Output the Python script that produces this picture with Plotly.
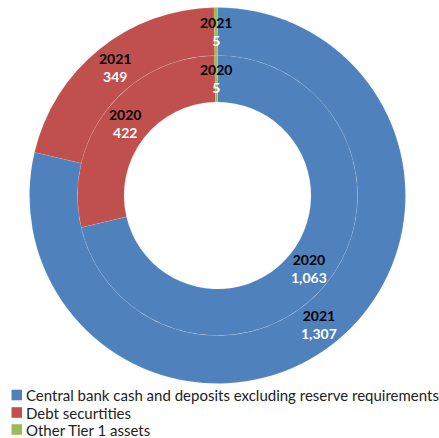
import math
import plotly.graph_objects as go

# Tier 1 asset composition, 2020 (inner ring) vs 2021 (outer ring)
categories = ["Central bank cash and deposits excluding reserve requirements",
              "Debt securtities",
              "Other Tier 1 assets"]
values_2021 = [1307, 349, 5]
values_2020 = [1063, 422, 5]
colors = ["#4F81BD", "#C0504D", "#9BBB59"]

W, H = 439, 438
CX, CY = 217.5, 195.5          # pie centre in pixels
R_OUT, R_MID, R_IN = 188, 140, 93.5

FONT = "Lato, 'Open Sans', sans-serif"


def domain(r):
    return dict(x=[(CX - r) / W, (CX + r) / W],
                y=[(H - CY - r) / H, (H - CY + r) / H])


line = dict(color="rgba(255,255,255,0.2)", width=0.5)

fig = go.Figure()
fig.add_trace(go.Pie(labels=categories, values=values_2021, sort=False,
                     direction="clockwise", rotation=0, hole=R_MID / R_OUT,
                     domain=domain(R_OUT), textinfo="none", showlegend=False,
                     marker=dict(colors=colors, line=line)))
fig.add_trace(go.Pie(labels=categories, values=values_2020, sort=False,
                     direction="clockwise", rotation=0, hole=R_IN / R_MID,
                     domain=domain(R_MID), textinfo="none", showlegend=False,
                     marker=dict(colors=colors, line=line)))


def ring_labels(vals, year, r):
    total = sum(vals)
    start = 0.0
    out = []
    for v in vals:
        mid = (start + v / 2) / total * 2 * math.pi
        start += v
        px = CX + r * math.sin(mid)
        py = CY - r * math.cos(mid)
        out.append(dict(
            x=px / W, y=1 - py / H, xref="paper", yref="paper",
            xanchor="center", yanchor="middle", showarrow=False,
            text=f"<b>{year}</b><br><b><span style='color:white'>{v:,}</span></b>",
            font=dict(family=FONT, size=14, color="black"), align="center"))
    return out


annotations = ring_labels(values_2021, "2021", (R_MID + R_OUT) / 2)
annotations += ring_labels(values_2020, "2020", (R_IN + R_MID) / 2)

# Legend rows below the chart
shapes = []
row_y = [395, 412.5, 429.5]
for name, col, y in zip(categories, colors, row_y):
    shapes.append(dict(type="rect", xref="paper", yref="paper",
                       x0=11.5 / W, x1=22 / W,
                       y0=1 - (y + 5.3) / H, y1=1 - (y - 5.3) / H,
                       fillcolor=col, line=dict(width=0)))
    annotations.append(dict(x=24 / W, y=1 - y / H, xref="paper", yref="paper",
                            xanchor="left", yanchor="middle", showarrow=False,
                            text=name, font=dict(family=FONT, size=15, color="#222")))

fig.update_layout(width=W, height=H, margin=dict(l=0, r=0, t=0, b=0),
                  paper_bgcolor="white", plot_bgcolor="white",
                  annotations=annotations, shapes=shapes)

fig.write_html("out.html")
